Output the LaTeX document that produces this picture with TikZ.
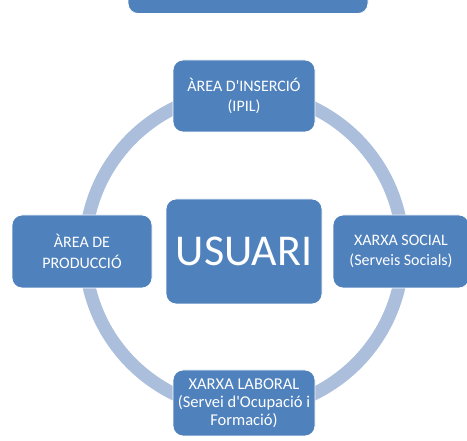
\documentclass[tikz,border=0pt]{standalone}
\usepackage{fontspec}
\setmainfont{Carlito}[Ligatures=TeXOff]
\definecolor{boxblue}{RGB}{79,129,189}
\definecolor{ringblue}{RGB}{171,190,220}
\begin{document}
\begin{tikzpicture}[x=1pt,y=-1pt,
  box/.style={fill=boxblue,draw=white,line width=0.8pt,rounded corners=10pt,
    text=white,align=center,inner sep=0pt,font=\fontsize{16}{20.5}\selectfont},
  ring/.style={draw=ringblue,line width=13pt}]
\useasboundingbox (0,0) rectangle (467,441);
\clip (0,0) rectangle (467,441);
\node[box,minimum width=240pt,minimum height=54pt] (cut) at (248,-13.5) {};
\coordinate (c) at (244,251);
\draw[ring] (c) circle (159);
\node[box,minimum width=142pt,minimum height=72pt] (top) at (244,96) {ÀREA D'INSERCIÓ\\(IPIL)};
\node[box,minimum width=140pt,minimum height=73pt] (left) at (82,251.5) {ÀREA DE\\PRODUCCIÓ};
\node[box,minimum width=136pt,minimum height=73pt] (right) at (401,251.5) {XARXA SOCIAL\\(Serveis Socials)};
\node[box,minimum width=156pt,minimum height=105pt,font=\fontsize{44}{50}\selectfont] (usuari) at (244,251.5) {USUARI};
\node[box,minimum width=142pt,minimum height=66pt,font=\fontsize{16.5}{18}\selectfont] (bottom) at (244,403) {XARXA LABORAL\\(Servei d'Ocupació i\\Formació)};
\end{tikzpicture}
\end{document}
